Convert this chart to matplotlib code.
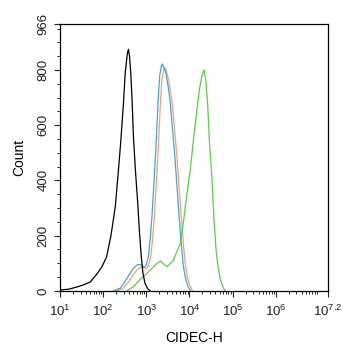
import numpy as np
from matplotlib import pyplot as plt
from matplotlib.ticker import FixedLocator, FixedFormatter, LogLocator, MultipleLocator

plt.rcParams['font.family'] = ['Liberation Sans', 'DejaVu Sans']
plt.rcParams['mathtext.fontset'] = 'custom'
plt.rcParams['mathtext.rm'] = 'Liberation Sans'

# histogram traces: log10(CIDEC-H) and count
black_logx = [1.0, 1.2, 1.39, 1.55, 1.70, 1.85, 1.97, 2.08, 2.18, 2.28, 2.35, 2.41, 2.47, 2.51,
              2.56, 2.585, 2.61, 2.64, 2.67, 2.70, 2.75, 2.80, 2.84, 2.88, 2.92, 2.97, 3.03, 3.09]
black_cnt = [3, 6, 14, 22, 32, 60, 87, 123, 200, 304, 430, 546, 680, 788,
             860, 875, 850, 788, 690, 560, 430, 320, 215, 130, 65, 27, 8, 0]

blue_logx = [2.24, 2.40, 2.55, 2.70, 2.80, 2.88, 2.95, 3.00, 3.05, 3.09, 3.13, 3.18, 3.22, 3.27,
             3.31, 3.35, 3.37, 3.40, 3.45, 3.50, 3.55, 3.61, 3.66, 3.71, 3.76, 3.81, 3.85, 3.90, 3.96, 4.02]
blue_cnt = [0, 10, 45, 82, 95, 95, 85, 95, 125, 190, 268, 400, 510, 680,
            780, 815, 822, 812, 790, 745, 690, 580, 490, 380, 268, 170, 100, 50, 18, 0]

orange_logx = [2.30, 2.45, 2.60, 2.75, 2.85, 2.93, 3.00, 3.05, 3.10, 3.14, 3.18, 3.23, 3.27, 3.32,
               3.36, 3.40, 3.43, 3.46, 3.50, 3.55, 3.60, 3.66, 3.71, 3.76, 3.81, 3.86, 3.90, 3.95, 4.01, 4.07]
orange_cnt = [0, 8, 35, 70, 85, 85, 80, 92, 120, 180, 255, 385, 495, 660,
              765, 800, 808, 798, 775, 735, 680, 575, 485, 375, 265, 168, 100, 50, 18, 0]

green_logx = [2.55, 2.70, 2.85, 3.01, 3.15, 3.25, 3.33, 3.40, 3.48, 3.56, 3.63, 3.70, 3.79, 3.86,
              3.94, 4.02, 4.10, 4.17, 4.23, 4.29, 4.34, 4.38, 4.42, 4.46, 4.52, 4.57, 4.62, 4.66, 4.71, 4.77, 4.83]
green_cnt = [0, 15, 40, 63, 85, 100, 108, 97, 88, 100, 111, 140, 172, 250,
             350, 440, 560, 650, 730, 780, 800, 760, 680, 545, 410, 250, 140, 90, 45, 15, 0]

xtick_pos = [1, 2, 3, 4, 5, 6, 7.2]
xtick_lab = ['$10^{1}$', '$10^{2}$', '$10^{3}$', '$10^{4}$', '$10^{5}$', '$10^{6}$', '$10^{7.2}$']
ytick_pos = [0, 200, 400, 600, 800, 966]

fig = plt.figure(figsize=(3.43, 3.5), dpi=100)
ax = fig.add_axes([0.175, 0.169, 0.78, 0.762])

ax.plot(10**np.array(orange_logx), orange_cnt, c='#f2a07a', lw=0.9)
ax.plot(10**np.array(blue_logx), blue_cnt, c='#3fa6d8', lw=0.9)
ax.plot(10**np.array(green_logx), green_cnt, c='#55d040', lw=0.9)
ax.plot(10**np.array(black_logx), black_cnt, c='k', lw=0.9)

ax.set_xscale('log')
ax.set_xlim(10, 10**7.2)
ax.set_ylim(0, 966)
ax.xaxis.set_major_locator(FixedLocator([10**p for p in xtick_pos]))
ax.xaxis.set_major_formatter(FixedFormatter(xtick_lab))
ax.xaxis.set_minor_locator(LogLocator(base=10, subs=np.arange(2, 10), numticks=20))
ax.yaxis.set_major_locator(FixedLocator(ytick_pos))
ax.yaxis.set_minor_locator(MultipleLocator(50))
ax.tick_params(axis='both', which='major', labelsize=9.5, length=4, width=0.8, colors='#222222')
ax.tick_params(axis='x', which='major', pad=5)
ax.tick_params(axis='both', which='minor', length=2, width=0.6)
ax.tick_params(axis='y', labelrotation=90)
for lab in ax.get_yticklabels():
    lab.set_va('center')
for s in ax.spines.values():
    s.set_linewidth(0.9)

ax.set_xlabel('CIDEC-H', fontsize=10, labelpad=9)
ax.set_ylabel('Count', fontsize=10, labelpad=8)

fig.savefig('out.png', dpi=100)
